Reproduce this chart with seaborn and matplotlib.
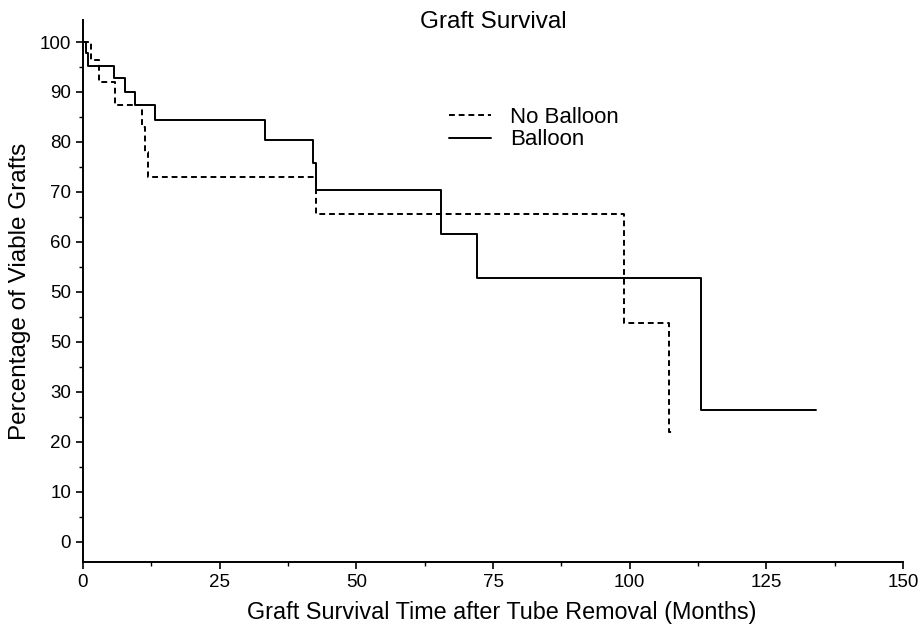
# Graft survival step curves (Kaplan-Meier style)

import numpy as np
import pandas as pd
import matplotlib
matplotlib.use("Agg")
import matplotlib.pyplot as plt
import seaborn as sns

# Data

balloon_months = [0, 0.6, 0.9, 5.6, 7.7, 9.5, 13.2, 33.3, 42.0, 42.7, 65.4, 72.1, 113.0, 134.0]
balloon_pct = [100, 97.7, 95.1, 92.7, 89.9, 87.4, 84.4, 80.4, 75.7, 70.3, 61.5, 52.7, 26.4, 26.4]

no_balloon_months = [0, 1.5, 3.0, 5.9, 10.8, 11.3, 11.9, 42.7, 99.0, 107.1, 107.9]
no_balloon_pct = [100, 96.3, 91.9, 87.4, 82.9, 77.9, 73.0, 65.6, 43.7, 22.0, 22.0]

x_ticks = [0, 25, 50, 75, 100, 125, 150]
y_ticks = [0, 10, 20, 30, 40, 50, 60, 70, 80, 90, 100]
y_tick_labels = ["0", "10", "20", "30", "50", "50", "60", "70", "80", "90", "100"]

df_b = pd.DataFrame({"Months": balloon_months, "Pct": balloon_pct})
df_nb = pd.DataFrame({"Months": no_balloon_months, "Pct": no_balloon_pct})

# Plot

sns.set_theme(style="ticks")
plt.rcParams["font.family"] = ["Liberation Sans", "DejaVu Sans"]
plt.rcParams["text.color"] = "black"
plt.rcParams["axes.labelcolor"] = "black"

fig = plt.figure(figsize=(9.21, 6.27), dpi=100)
ax = fig.add_axes([0.0901, 0.1037, 0.8904, 0.8644])

sns.lineplot(data=df_nb, x="Months", y="Pct", ax=ax, estimator=None,
             drawstyle="steps-post", color="black", linewidth=1.4,
             dashes=False, label="No Balloon")
sns.lineplot(data=df_b, x="Months", y="Pct", ax=ax, estimator=None,
             drawstyle="steps-post", color="black", linewidth=1.4,
             label="Balloon")
ax.lines[0].set_dashes((3, 2))

ax.set_xlim(0, 150)
ax.set_ylim(-4, 104.4)
ax.set_xticks(x_ticks)
ax.set_xticks(np.arange(0, 151, 12.5), minor=True)
ax.set_yticks(y_ticks)
ax.set_yticklabels(y_tick_labels)
ax.set_yticks(np.arange(0, 101, 5), minor=True)
ax.tick_params(axis="both", which="major", labelsize=13.5, length=5, width=1.2, color="black", labelcolor="black")
ax.tick_params(axis="both", which="minor", length=3, width=1.0, color="black")

for s in ["top", "right"]:
    ax.spines[s].set_visible(False)
for s in ["left", "bottom"]:
    ax.spines[s].set_color("black")
    ax.spines[s].set_linewidth(1.4)

ax.set_xlabel("Graft Survival Time after Tube Removal (Months)", fontsize=16.8, labelpad=7, x=0.511)
ax.set_ylabel("Percentage of Viable Grafts", fontsize=17.5, labelpad=6)
ax.set_title("Graft Survival", fontsize=17.5, y=0.985, pad=0)

ax.legend(loc="upper left", bbox_to_anchor=(0.4463, 0.839), frameon=False,
          fontsize=16, handlelength=1.9, labelspacing=0.05, handletextpad=0.85,
          borderpad=0, borderaxespad=0)

fig.savefig("out.png", dpi=100)
